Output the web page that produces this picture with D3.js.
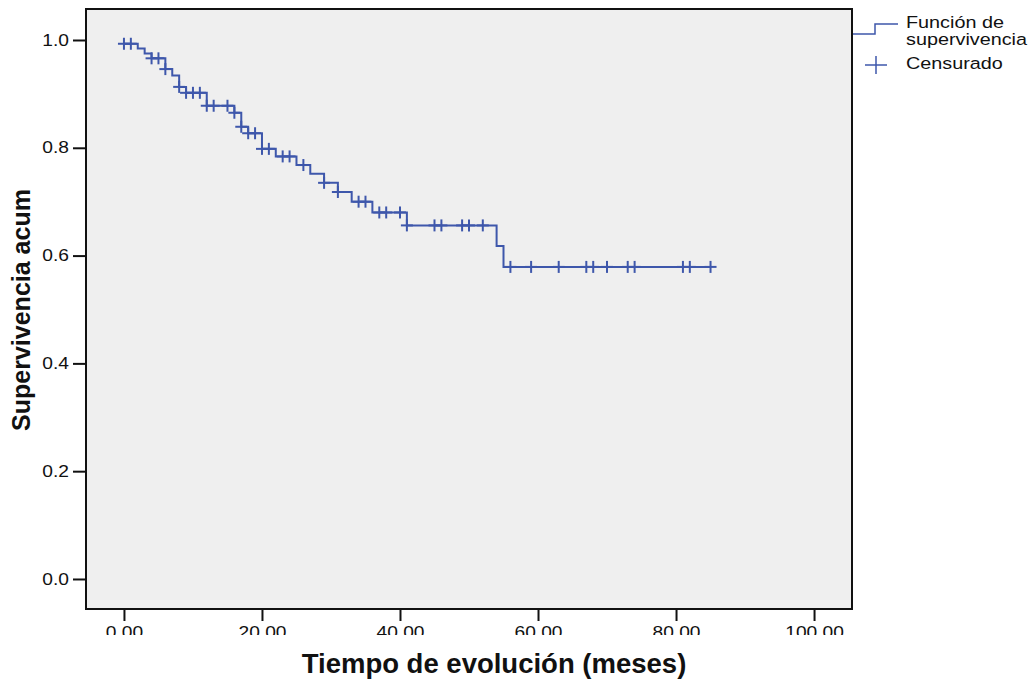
<!DOCTYPE html>
<html>
<head>
<meta charset="utf-8">
<script src="https://cdn.jsdelivr.net/npm/d3@7"></script>
<style>
  body { margin: 0; background: #fff; }
  text { font-family: Arial, "Liberation Sans", sans-serif; }
</style>
</head>
<body>
<div id="chart"></div>
<script>
// step points of the survival function (time in months, cumulative survival)
const stepTimes = [0, 2, 3, 4, 6, 7, 8, 9, 12, 16, 17, 18, 20, 22, 25, 27, 29, 31, 33, 36, 41, 54, 55, 85];
const stepSurv  = [0.993, 0.984, 0.975, 0.966, 0.946, 0.934, 0.913, 0.902, 0.878, 0.865, 0.839, 0.827,
                   0.798, 0.784, 0.768, 0.752, 0.735, 0.718, 0.700, 0.680, 0.656, 0.618, 0.579, 0.579];

// censored observations
const censorTimes = [0, 1, 4, 5, 6, 8, 9, 10, 11, 12, 13, 15, 16, 17, 18, 19, 20, 21, 23, 24, 26, 29, 31,
                     34, 35, 37, 38, 40, 41, 45, 46, 49, 50, 52, 56, 59, 63, 67, 68, 70, 73, 74, 81, 82, 85];

const xTicks = [0, 20, 40, 60, 80, 100];
const yTicks = [0, 0.2, 0.4, 0.6, 0.8, 1.0];

const width = 1030, height = 686;
const blue = "#3e57ab";
const stretch = 1.2; // text in the original is drawn a bit wide

const svg = d3.select("#chart").append("svg")
    .attr("width", width)
    .attr("height", height);

const x = d3.scaleLinear().domain([-5.5, 105.5]).range([86, 852]);
const y = d3.scaleLinear().domain([-0.0557, 1.0575]).range([609, 9]);

// plot background + frame
svg.append("rect")
    .attr("x", x.range()[0]).attr("y", y.range()[1])
    .attr("width", x.range()[1] - x.range()[0])
    .attr("height", y.range()[0] - y.range()[1])
    .attr("fill", "#efefef")
    .attr("stroke", "#111")
    .attr("stroke-width", 2);

// survival level at a given time
function survAt(t) {
  let s = stepSurv[0];
  for (let i = 0; i < stepTimes.length; i++) {
    if (stepTimes[i] <= t) s = stepSurv[i];
  }
  return s;
}

const pts = stepTimes.map((t, i) => [t, stepSurv[i]]);
const line = d3.line()
    .x(d => x(d[0]))
    .y(d => y(d[1]))
    .curve(d3.curveStepAfter);

svg.append("path")
    .datum(pts)
    .attr("d", line)
    .attr("fill", "none")
    .attr("stroke", blue)
    .attr("stroke-width", 2);

const cens = svg.append("g")
    .attr("stroke", blue)
    .attr("stroke-width", 2);
censorTimes.forEach(t => {
  const cx = x(t), cy = y(survAt(t));
  cens.append("line").attr("x1", cx).attr("x2", cx).attr("y1", cy - 6).attr("y2", cy + 6);
  cens.append("line").attr("x1", cx - 6).attr("x2", cx + 6).attr("y1", cy).attr("y2", cy);
});

// y axis
const yAxis = svg.append("g")
    .attr("transform", `translate(${x.range()[0]},0)`)
    .call(d3.axisLeft(y).tickValues(yTicks).tickFormat(d3.format(".1f")).tickSize(13).tickPadding(4));
yAxis.select(".domain").remove();
yAxis.selectAll(".tick line").attr("stroke", "#111").attr("stroke-width", 2);
yAxis.selectAll(".tick text")
    .attr("font-size", 16).attr("fill", "#111")
    .attr("font-family", "Arial, 'Liberation Sans', sans-serif")
    .attr("x", -17 / stretch)
    .attr("transform", `scale(${stretch},1)`);

// x axis (labels cut off at the bottom, as in the original)
svg.append("defs").append("clipPath").attr("id", "xclip")
  .append("rect").attr("x", 0).attr("y", 600).attr("width", width).attr("height", 35);

const xAxis = svg.append("g")
    .attr("clip-path", "url(#xclip)")
  .append("g")
    .attr("transform", `translate(0,${y.range()[0]})`)
    .call(d3.axisBottom(x).tickValues(xTicks).tickFormat(d3.format(".2f")).tickSize(12).tickPadding(6));
xAxis.select(".domain").remove();
xAxis.selectAll(".tick line").attr("stroke", "#111").attr("stroke-width", 2);
xAxis.selectAll(".tick text")
    .attr("font-size", 16).attr("fill", "#111")
    .attr("font-family", "Arial, 'Liberation Sans', sans-serif")
    .attr("transform", `scale(${stretch},1)`);

// axis titles
svg.append("text")
    .attr("x", 494).attr("y", 673)
    .attr("text-anchor", "middle")
    .attr("font-size", 27.5)
    .attr("font-weight", "bold")
    .attr("fill", "#111")
    .text("Tiempo de evolución (meses)");

svg.append("text")
    .attr("transform", "translate(30,310) rotate(-90)")
    .attr("text-anchor", "middle")
    .attr("font-size", 25)
    .attr("font-weight", "bold")
    .attr("fill", "#111")
    .text("Supervivencia acum");

// legend
const leg = svg.append("g");
leg.append("path")
    .attr("d", "M853,34H875V24H898")
    .attr("fill", "none")
    .attr("stroke", blue)
    .attr("stroke-width", 1.5);
leg.append("line").attr("x1", 865).attr("x2", 887).attr("y1", 65).attr("y2", 65)
    .attr("stroke", blue).attr("stroke-width", 1.5);
leg.append("line").attr("x1", 876).attr("x2", 876).attr("y1", 56).attr("y2", 74)
    .attr("stroke", blue).attr("stroke-width", 1.5);
const legText = [["Función de", 28], ["supervivencia", 45], ["Censurado", 69]];
legText.forEach(([t, yy]) => {
  leg.append("text")
      .attr("transform", `translate(906,${yy}) scale(${stretch},1)`)
      .attr("font-size", 16.5).attr("fill", "#111").text(t);
});
</script>
</body>
</html>
